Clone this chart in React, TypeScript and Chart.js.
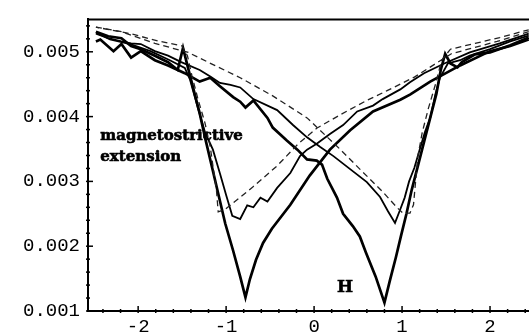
import React, { useEffect, useRef } from "react";
import { Chart, registerables } from "chart.js";

Chart.register(...registerables);

// Axis ranges and tick values
const xRange = [-2.57, 2.443];
const yRange = [0.001, 0.0055];
const xTickValues = [-2, -1, 0, 1, 2];
const yTickValues = [0.001, 0.002, 0.003, 0.004, 0.005];

// Thick solid curve (deep minima), branch sweeping up in H (minimum at +H)
const thickUp: [number, number][] = [
  [-2.48, 0.00516], [-2.43, 0.00519], [-2.28, 0.00501], [-2.19, 0.00512], [-2.08, 0.00491],
  [-1.97, 0.00501], [-1.81, 0.00487], [-1.66, 0.00479], [-1.47, 0.00467], [-1.3, 0.00454],
  [-1.18, 0.0046], [-1.07, 0.00447], [-0.92, 0.0043], [-0.84, 0.00423], [-0.78, 0.00414],
  [-0.69, 0.00425], [-0.53, 0.00398], [-0.47, 0.00383], [-0.31, 0.00363], [-0.19, 0.00349],
  [-0.08, 0.00334], [0.03, 0.00332], [0.09, 0.00326], [0.15, 0.00304], [0.26, 0.00275],
  [0.33, 0.0025], [0.44, 0.00231], [0.52, 0.00215], [0.59, 0.0019], [0.7, 0.00153],
  [0.8, 0.00113], [0.86, 0.00146], [0.93, 0.00183], [0.99, 0.00217], [1.05, 0.0025],
  [1.11, 0.00287], [1.18, 0.00324], [1.25, 0.00361], [1.32, 0.00398], [1.39, 0.00435],
  [1.44, 0.00472], [1.49, 0.00497], [1.55, 0.00482], [1.63, 0.00476], [1.68, 0.00484],
  [1.83, 0.00496], [2.0, 0.00499], [2.23, 0.0051], [2.44, 0.00522],
];

// Thick solid curve, branch sweeping down in H (minimum at -H)
const thickDown: [number, number][] = [
  [2.44, 0.00519], [2.23, 0.00509], [2.0, 0.00501], [1.66, 0.00479], [1.32, 0.00454],
  [1.09, 0.00434], [0.98, 0.00426], [0.67, 0.00408], [0.41, 0.00379], [0.18, 0.00349],
  [-0.05, 0.00309], [-0.27, 0.00264], [-0.48, 0.00227], [-0.58, 0.00205], [-0.66, 0.00179],
  [-0.73, 0.00149], [-0.78, 0.00121], [-0.84, 0.00153], [-0.92, 0.00193], [-1.01, 0.00235],
  [-1.15, 0.00316], [-1.24, 0.00368], [-1.3, 0.00405], [-1.38, 0.00447], [-1.44, 0.00479],
  [-1.49, 0.00506], [-1.55, 0.00472], [-1.66, 0.00484], [-1.81, 0.00494], [-1.97, 0.00504],
  [-2.08, 0.00509], [-2.19, 0.00521], [-2.34, 0.00524], [-2.48, 0.00531],
];

// Thin solid curve, branch sweeping up in H
const thinUp: [number, number][] = [
  [-2.48, 0.00528], [-2.34, 0.00521], [-2.19, 0.00516], [-2.08, 0.00513], [-1.97, 0.00512],
  [-1.81, 0.00501], [-1.66, 0.00494], [-1.51, 0.00484], [-1.3, 0.00472], [-1.18, 0.00462],
  [-1.07, 0.00452], [-0.95, 0.00449], [-0.84, 0.00445], [-0.69, 0.00427], [-0.42, 0.0041],
  [-0.24, 0.00387], [-0.08, 0.00368], [0.07, 0.00353], [0.22, 0.00339], [0.41, 0.00319],
  [0.6, 0.00299], [0.75, 0.00276], [0.84, 0.00254], [0.92, 0.00236], [0.98, 0.00257],
  [1.03, 0.00275], [1.08, 0.003], [1.14, 0.00321], [1.2, 0.00349], [1.26, 0.00376],
  [1.32, 0.00398], [1.38, 0.00435], [1.43, 0.0046], [1.52, 0.00482], [1.66, 0.00487],
  [1.77, 0.00494], [2.0, 0.00504], [2.23, 0.00516], [2.44, 0.00525],
];

// Thin solid curve, branch sweeping down in H
const thinDown: [number, number][] = [
  [2.44, 0.00528], [2.11, 0.00513], [1.77, 0.00499], [1.48, 0.00482], [1.25, 0.00467],
  [1.09, 0.00453], [0.98, 0.00442], [0.78, 0.00427], [0.67, 0.00417], [0.49, 0.00408],
  [0.33, 0.00387], [0.18, 0.00373], [0.03, 0.00358], [-0.08, 0.00349], [-0.16, 0.00339],
  [-0.27, 0.00313], [-0.42, 0.0029], [-0.53, 0.00269], [-0.61, 0.00275], [-0.69, 0.0026],
  [-0.76, 0.00263], [-0.84, 0.00242], [-0.93, 0.00247], [-1.0, 0.00279], [-1.07, 0.00312],
  [-1.15, 0.00349], [-1.24, 0.00376], [-1.32, 0.00413], [-1.41, 0.00457], [-1.47, 0.00475],
  [-1.64, 0.00487], [-1.86, 0.00501], [-2.09, 0.00512], [-2.32, 0.00519], [-2.48, 0.0053],
];

// Dashed curve, branch sweeping up in H
const dashUp: [number, number][] = [
  [-2.48, 0.00538], [-2.19, 0.00531], [-1.81, 0.00513], [-1.43, 0.00499], [-1.13, 0.00479],
  [-0.84, 0.0046], [-0.47, 0.00432], [-0.08, 0.00398], [0.3, 0.00349], [0.52, 0.00319],
  [0.78, 0.00284], [0.94, 0.0026], [1.01, 0.00251], [1.09, 0.00251], [1.13, 0.00264],
  [1.15, 0.00294], [1.18, 0.00339], [1.23, 0.00376], [1.3, 0.00413], [1.38, 0.0045],
  [1.45, 0.00487], [1.55, 0.00504], [1.83, 0.00513], [2.11, 0.00522], [2.44, 0.00534],
];

// Dashed curve, branch sweeping down in H
const dashDown: [number, number][] = [
  [2.44, 0.00531], [2.08, 0.00516], [1.56, 0.00497], [1.14, 0.00461], [0.83, 0.0044],
  [0.6, 0.00425], [0.3, 0.00403], [0.03, 0.00382], [-0.18, 0.00358], [-0.42, 0.00324],
  [-0.7, 0.00291], [-1.01, 0.00257], [-1.09, 0.00253], [-1.11, 0.00287], [-1.15, 0.00324],
  [-1.18, 0.00353], [-1.24, 0.0039], [-1.32, 0.00427], [-1.39, 0.00464], [-1.44, 0.00494],
  [-1.5, 0.00509], [-1.75, 0.00516], [-2.09, 0.00528], [-2.48, 0.00538],
];

// Text annotations placed in data coordinates
const annotations = [
  { text: "magnetostrictive", x: -2.43, y: 0.003637, size: 15 },
  { text: "extension", x: -2.43, y: 0.003311, size: 15 },
  { text: "H", x: 0.26, y: 0.0013, size: 17 },
];

const toPts = (arr: [number, number][]) => arr.map(([x, y]) => ({ x, y }));

const decorPlugin = {
  id: "decor",
  afterDraw(chart: any) {
    const { ctx, chartArea, scales } = chart;
    const xs = scales.x;
    const ys = scales.y;
    ctx.save();
    ctx.strokeStyle = "#000";
    // top border
    ctx.lineWidth = 2;
    ctx.beginPath();
    ctx.moveTo(chartArea.left, chartArea.top);
    ctx.lineTo(chartArea.right, chartArea.top);
    ctx.stroke();
    // y ticks (inward)
    ctx.lineWidth = 1.5;
    for (let i = 0; i <= 22; i++) {
      const v = yRange[0] + i * 0.0002;
      if (v > yRange[1]) break;
      const py = ys.getPixelForValue(v);
      const major = i % 5 === 0;
      ctx.beginPath();
      ctx.moveTo(chartArea.left - 2, py);
      ctx.lineTo(chartArea.left + (major ? 5 : 2), py);
      ctx.stroke();
    }
    // x ticks
    for (let i = -13; i <= 12; i++) {
      const h = i * 0.2;
      if (h < xRange[0] || h > xRange[1]) continue;
      const px = xs.getPixelForValue(h);
      const major = i % 5 === 0;
      ctx.beginPath();
      ctx.moveTo(px, chartArea.bottom + 2);
      ctx.lineTo(px, chartArea.bottom - (major ? 5 : 2));
      ctx.stroke();
    }
    // annotations
    ctx.fillStyle = "#000";
    ctx.strokeStyle = "#000";
    ctx.lineWidth = 0.6;
    ctx.textBaseline = "alphabetic";
    ctx.textAlign = "left";
    for (const a of annotations) {
      ctx.font = `bold ${a.size}px "DejaVu Serif"`;
      const px = xs.getPixelForValue(a.x);
      const py = ys.getPixelForValue(a.y);
      ctx.fillText(a.text, px, py);
      ctx.strokeText(a.text, px, py);
    }
    ctx.restore();
  },
};

export default function App() {
  const canvasRef = useRef<HTMLCanvasElement | null>(null);

  useEffect(() => {
    if (!canvasRef.current) return;
    const solid = (data: [number, number][], w: number) => ({
      data: toPts(data),
      showLine: true,
      borderColor: "#000",
      borderWidth: w,
      pointRadius: 0,
      fill: false,
      tension: 0,
    });
    const dashed = (data: [number, number][]) => ({
      data: toPts(data),
      showLine: true,
      borderColor: "#222",
      borderWidth: 1.3,
      borderDash: [6, 4],
      pointRadius: 0,
      fill: false,
      tension: 0,
    });
    const chart = new Chart(canvasRef.current, {
      type: "scatter",
      data: {
        datasets: [
          dashed(dashUp),
          dashed(dashDown),
          solid(thinUp, 1.8),
          solid(thinDown, 1.8),
          solid(thickUp, 2.7),
          solid(thickDown, 2.7),
        ] as any,
      },
      options: {
        animation: false,
        responsive: true,
        maintainAspectRatio: false,
        layout: { padding: { top: 7, right: 0, left: 0, bottom: 0 } },
        plugins: { legend: { display: false }, tooltip: { enabled: false } },
        scales: {
          x: {
            type: "linear",
            min: xRange[0],
            max: xRange[1],
            afterFit: (s: any) => {
              s.height = 25;
            },
            afterBuildTicks: (s: any) => {
              s.ticks = xTickValues.map((v) => ({ value: v }));
            },
            ticks: {
              color: "#000",
              font: { family: '"Liberation Mono"', size: 19 },
              padding: 5,
              maxRotation: 0,
              autoSkip: false,
              callback: (v: any) => String(Math.round(Number(v))),
            },
            grid: { display: false, drawTicks: false },
            border: { display: true, color: "#000", width: 2 },
          },
          y: {
            type: "linear",
            min: yRange[0],
            max: yRange[1],
            afterFit: (s: any) => {
              s.width = 88;
            },
            afterBuildTicks: (s: any) => {
              s.ticks = yTickValues.map((v) => ({ value: v }));
            },
            ticks: {
              color: "#000",
              font: { family: '"Liberation Mono"', size: 19 },
              padding: 8,
              autoSkip: false,
              callback: (v: any) => Number(v).toFixed(3),
            },
            grid: { display: false, drawTicks: false },
            border: { display: true, color: "#000", width: 2 },
          },
        },
      },
      plugins: [decorPlugin],
    });
    return () => chart.destroy();
  }, []);

  return (
    <div style={{ position: "fixed", left: 0, top: 0, width: 529, height: 336, background: "#fff" }}>
      <canvas ref={canvasRef} />
    </div>
  );
}
